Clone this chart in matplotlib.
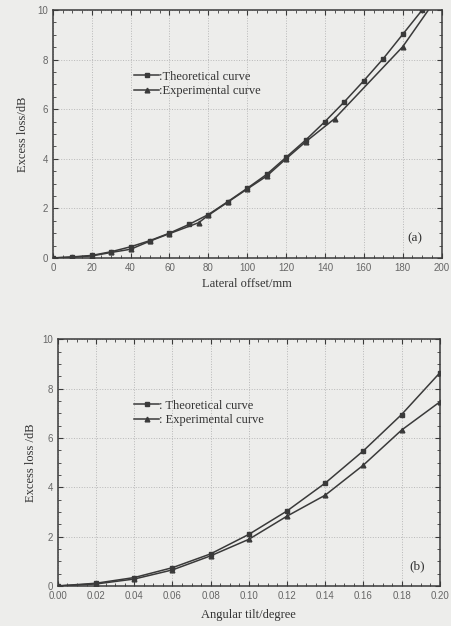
import matplotlib
matplotlib.use("Agg")
import matplotlib.pyplot as plt
from matplotlib.ticker import MultipleLocator, FormatStrFormatter

plt.rcParams['font.family'] = ['Liberation Serif', 'DejaVu Serif']

# (a) lateral offset
offset_theo = [0, 10, 20, 30, 40, 50, 60, 70, 80, 90, 100, 110, 120, 130, 140, 150, 160, 170, 180, 190]
loss_theo_a = [0, 0.04, 0.10, 0.25, 0.45, 0.70, 1.00, 1.35, 1.75, 2.27, 2.81, 3.37, 4.06, 4.75, 5.50, 6.30, 7.15, 8.04, 9.02, 10.0]
offset_exp = [0, 10, 20, 30, 40, 50, 60, 75, 80, 90, 100, 110, 120, 130, 145, 180, 195]
loss_exp_a = [0, 0.03, 0.08, 0.22, 0.35, 0.68, 0.98, 1.42, 1.72, 2.25, 2.78, 3.30, 4.00, 4.68, 5.62, 8.52, 10.2]

# (b) angular tilt
tilt = [0.00, 0.02, 0.04, 0.06, 0.08, 0.10, 0.12, 0.14, 0.16, 0.18, 0.20]
loss_theo_b = [0, 0.11, 0.34, 0.74, 1.30, 2.09, 3.04, 4.17, 5.48, 6.95, 8.64]
loss_exp_b = [0, 0.08, 0.28, 0.65, 1.22, 1.89, 2.83, 3.68, 4.90, 6.32, 7.46]

bg = "#ededeb"
ink = "#3a3a3a"

fig = plt.figure(figsize=(4.52, 6.26), dpi=100, facecolor=bg)
ax1 = fig.add_axes([0.117, 0.588, 0.860, 0.396], facecolor=bg)
ax2 = fig.add_axes([0.128, 0.064, 0.845, 0.394], facecolor=bg)

def style(ax, xmaj, xmin, fmt):
    ax.xaxis.set_major_locator(MultipleLocator(xmaj))
    ax.xaxis.set_minor_locator(MultipleLocator(xmin))
    ax.yaxis.set_major_locator(MultipleLocator(2))
    ax.yaxis.set_minor_locator(MultipleLocator(0.5))
    ax.xaxis.set_major_formatter(FormatStrFormatter(fmt))
    ax.tick_params(which="both", direction="in", top=True, right=True,
                   colors=ink, labelsize=7, labelcolor="#666666")
    ax.tick_params(which="major", length=3.5)
    ax.tick_params(which="minor", length=2)
    for lab in ax.get_xticklabels() + ax.get_yticklabels():
        lab.set_family(["Liberation Sans", "DejaVu Sans"])
    for s in ax.spines.values():
        s.set_color(ink)
        s.set_linewidth(1.1)
    ax.grid(True, which="major", linestyle=":", color="#b8b8b8", linewidth=0.7)
    ax.set_ylim(0, 10)

ax1.set_xlim(0, 200)
style(ax1, 20, 5, "%d")
ax1.plot(offset_theo, loss_theo_a, color=ink, lw=1.1, marker="s", ms=3.4,
         label=":Theoretical curve")
ax1.plot(offset_exp, loss_exp_a, color=ink, lw=1.1, marker="^", ms=3.4,
         label=":Experimental curve")
ax1.set_xlabel("Lateral offset/mm", fontsize=9, color="#333333", labelpad=4)
ax1.set_ylabel("Excess loss/dB", fontsize=9, color="#333333", labelpad=6)
ax1.legend(loc="upper left", bbox_to_anchor=(0.18, 0.8), frameon=False,
           fontsize=9, handlelength=2.0, handletextpad=0.0, labelspacing=0.2,
           labelcolor="#333333")
ax1.text(0.93, 0.08, "(a)", transform=ax1.transAxes, fontsize=9.5,
         ha="center", va="center", color="#333333")

ax2.set_xlim(0, 0.20)
style(ax2, 0.02, 0.005, "%.2f")
ax2.plot(tilt, loss_theo_b, color=ink, lw=1.1, marker="s", ms=3.4,
         label=": Theoretical curve")
ax2.plot(tilt, loss_exp_b, color=ink, lw=1.1, marker="^", ms=3.4,
         label=": Experimental curve")
ax2.set_xlabel("Angular tilt/degree", fontsize=9, color="#333333", labelpad=6)
ax2.set_ylabel("Excess loss /dB", fontsize=9, color="#333333", labelpad=4)
ax2.legend(loc="upper left", bbox_to_anchor=(0.17, 0.8), frameon=False,
           fontsize=9, handlelength=2.0, handletextpad=0.0, labelspacing=0.2,
           labelcolor="#333333")
ax2.text(0.94, 0.08, "(b)", transform=ax2.transAxes, fontsize=9.5,
         ha="center", va="center", color="#333333")

fig.savefig("out.png", dpi=100, facecolor=bg)
